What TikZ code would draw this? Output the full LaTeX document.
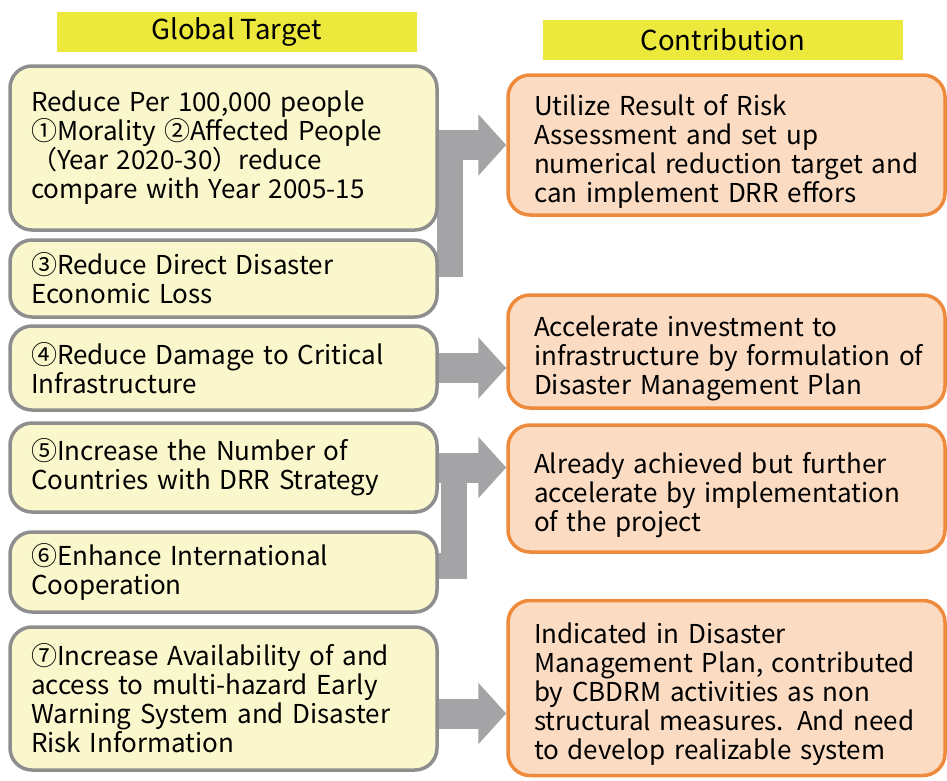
\documentclass[tikz,border=0pt]{standalone}
\usepackage{fontspec}
\setmainfont{Noto Sans CJK JP}
\usetikzlibrary{arrows.meta,calc}
\definecolor{hdyel}{HTML}{ECE83C}
\definecolor{tfill}{HTML}{F9F7CB}
\definecolor{tline}{HTML}{8E8E8E}
\definecolor{cfill}{HTML}{FBDCC3}
\definecolor{cline}{HTML}{EE8A3C}
\definecolor{agray}{HTML}{A4A4A6}
\pgfdeclarelayer{bg}\pgfsetlayers{bg,main}

\begin{document}
\begin{tikzpicture}[x=1pt,y=-1pt,font=\fontsize{26}{29}\selectfont,
 hd/.style={fill=hdyel,minimum width=360pt,minimum height=40pt,inner sep=0pt,font=\fontsize{27.5}{30}\selectfont},
 tbox/.style={draw=tline,fill=tfill,line width=3.5pt,rounded corners=22pt,minimum width=427pt,text width=385pt,inner xsep=21pt,align=left},
 cbox/.style={draw=cline,fill=cfill,line width=3.5pt,rounded corners=22pt,minimum width=437pt,text width=417pt,inner xsep=10pt,align=left,execute at begin node={\leftskip=16pt\rule{0pt}{34pt}}},
 garr/.style={draw=agray,line width=30pt,-{Triangle[length=28pt,width=60pt]}},
 gbar/.style={draw=agray,line width=26pt,line join=miter}]
\useasboundingbox (0,0) rectangle (947,780);
\node[hd] (hg) at (236.5,32) {Global Target};
\node[hd] (hc) at (723,39.5) {Contribution};
\node[tbox,minimum height=164pt] (t1) at (223.5,148) {Reduce Per 100,000 people\\①Morality ②Affected People\\（Year 2020-30）reduce\\compare with Year 2005-15};
\node[tbox,minimum height=77pt] (t2) at (223.5,278.5) {③Reduce Direct Disaster\\Economic Loss};
\node[tbox,minimum height=84pt] (t3) at (223.5,368) {④Reduce Damage to Critical\\Infrastructure};
\node[tbox,minimum height=89pt] (t4) at (223.5,467.5) {⑤Increase the Number of\\Countries with DRR Strategy};
\node[tbox,minimum height=80pt] (t5) at (223.5,572) {⑥Enhance International\\Cooperation};
\node[tbox,minimum height=143pt] (t6) at (223.5,698.5) {⑦Increase Availability of and\\access to multi-hazard Early\\Warning System and Disaster\\Risk Information};
\node[cbox,minimum height=140pt] (c1) at (726.5,145) {Utilize Result of Risk\\Assessment and set up\\numerical reduction target and\\can implement DRR effors};
\node[cbox,minimum height=113pt] (c2) at (726.5,351.5) {Accelerate investment to\\infrastructure by formulation of\\Disaster Management Plan};
\node[cbox,minimum height=127pt] (c3) at (726.5,488.5) {Already achieved but further\\accelerate by implementation\\of the project};
\node[cbox,minimum height=175pt] (c4) at (726.5,688) {Indicated in Disaster\\Management Plan, contributed\\by CBDRM activities as non\\structural measures. And need\\to develop realizable system};
\begin{pgfonlayer}{bg}
\coordinate (j1) at (450,145);\coordinate (j2) at (454,470);
\coordinate (a4) at ([yshift=-15pt]t6.east);
\draw[gbar] ([yshift=15pt]t2.east) -| (j1);
\draw[gbar] ([yshift=6pt]t5.east) -| (j2);
\draw[garr] (t1.east |- c1.west) -- (c1.west);
\draw[garr] (t3.east) -- (t3.east -| c2.west);
\draw[garr] (t4.east) -- (t4.east -| c3.west);
\draw[garr] (a4) -- (a4 -| c4.west);
\end{pgfonlayer}
\end{tikzpicture}
\end{document}
